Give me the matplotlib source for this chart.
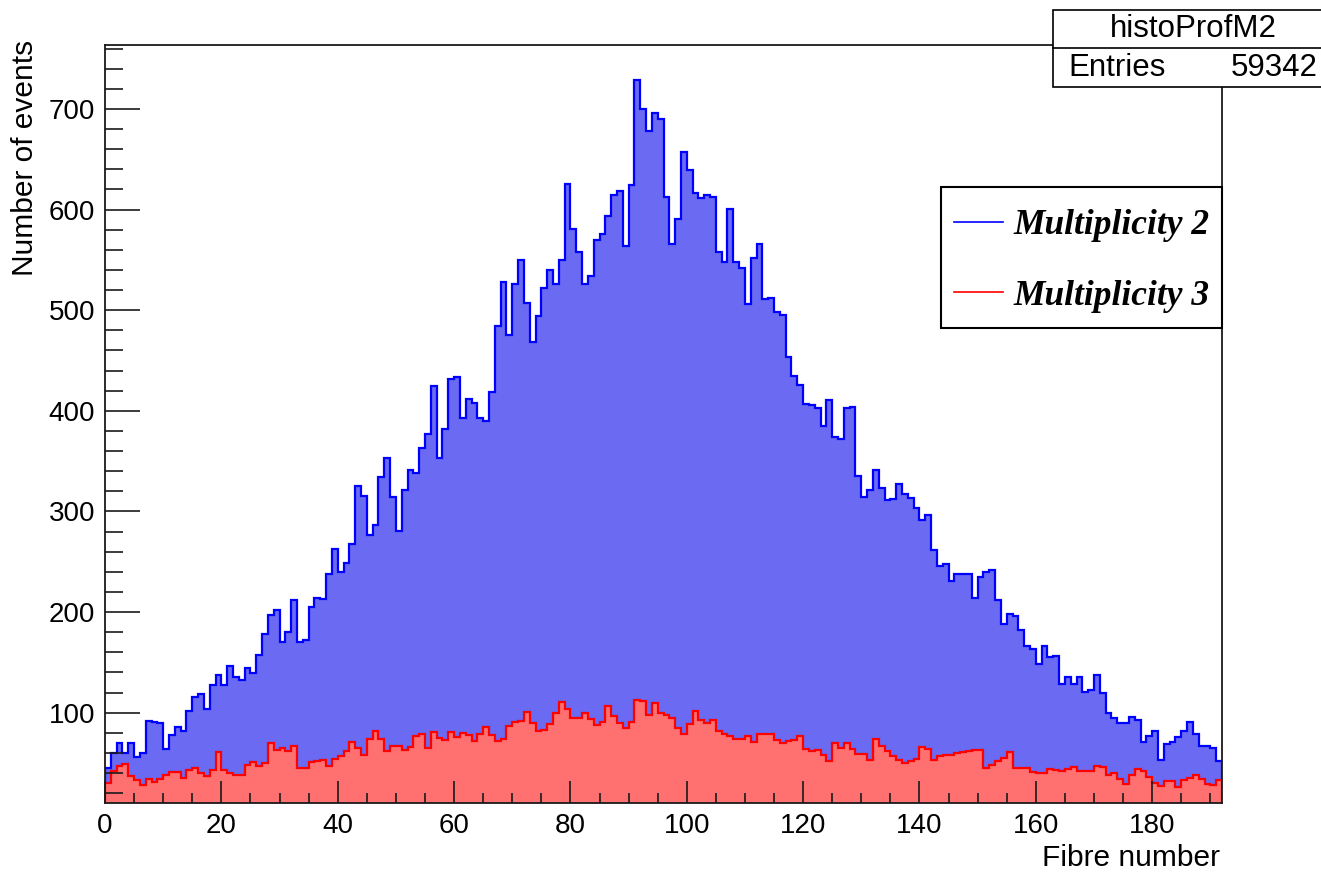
import matplotlib
matplotlib.use("Agg")
import matplotlib.pyplot as plt
import numpy as np
from matplotlib.ticker import MultipleLocator
from matplotlib.lines import Line2D
from matplotlib.patches import Rectangle

# ---------------- data ----------------
bin_edges = np.arange(0, 193, 1)

mult2 = [45, 60, 70, 60, 70, 56, 60, 92, 91, 90,
         64, 78, 86, 82, 102, 116, 119, 104, 128, 138,
         128, 146, 136, 133, 144, 139, 157, 178, 197, 202,
         170, 180, 212, 170, 172, 205, 214, 213, 238, 263,
         240, 249, 268, 325, 315, 277, 287, 334, 353, 314,
         281, 321, 341, 338, 363, 377, 425, 353, 382, 432,
         434, 393, 412, 408, 393, 390, 419, 484, 528, 475,
         526, 550, 507, 468, 494, 522, 540, 526, 550, 625,
         581, 558, 526, 534, 570, 576, 594, 615, 619, 564,
         624, 729, 700, 678, 696, 690, 613, 566, 591, 657,
         639, 617, 612, 615, 613, 558, 548, 601, 548, 542,
         506, 552, 566, 511, 512, 498, 495, 454, 435, 426,
         407, 406, 403, 385, 411, 374, 372, 403, 404, 335,
         314, 321, 341, 323, 311, 312, 327, 317, 313, 303,
         292, 297, 262, 246, 248, 231, 238, 238, 238, 214,
         235, 240, 242, 212, 188, 198, 196, 182, 166, 163,
         148, 166, 155, 156, 129, 136, 129, 136, 121, 123,
         138, 120, 100, 95, 90, 90, 96, 93, 71, 77,
         82, 53, 69, 71, 76, 82, 91, 79, 67, 67,
         65, 52]

mult3 = [30, 42, 47, 49, 37, 33, 28, 34, 31, 34,
         38, 41, 41, 35, 43, 45, 40, 37, 43, 61,
         43, 40, 38, 38, 48, 51, 47, 50, 70, 63,
         65, 62, 67, 45, 45, 51, 52, 53, 47, 54,
         57, 62, 71, 65, 58, 74, 82, 74, 62, 67,
         67, 63, 66, 77, 79, 65, 81, 75, 73, 81,
         76, 80, 78, 72, 79, 86, 78, 72, 74, 87,
         91, 92, 101, 90, 82, 83, 89, 100, 111, 104,
         95, 95, 100, 94, 88, 91, 107, 97, 90, 85,
         91, 113, 112, 98, 110, 100, 98, 95, 85, 79,
         89, 102, 93, 90, 93, 82, 79, 77, 74, 74,
         77, 71, 79, 79, 79, 73, 70, 72, 73, 77,
         64, 62, 63, 58, 52, 70, 65, 70, 64, 59,
         59, 53, 74, 67, 62, 57, 53, 50, 52, 54,
         66, 64, 53, 57, 58, 58, 60, 61, 62, 63,
         63, 45, 48, 52, 55, 61, 45, 45, 45, 41,
         40, 40, 44, 43, 42, 44, 46, 42, 42, 42,
         47, 46, 38, 40, 34, 29, 38, 44, 42, 36,
         30, 27, 32, 32, 26, 33, 35, 38, 34, 29,
         28, 33]

legend_labels = ["Multiplicity 2", "Multiplicity 3"]
stat_name = "histoProfM2"
stat_entries = "59342"
x_label = "Fibre number"
y_label = "Number of events"

# ---------------- figure ----------------
W, H = 1321, 872
plt.rcParams["font.family"] = ["Liberation Sans", "DejaVu Sans"]

def fx(x):
    return x / W

def fy(y):
    return 1 - y / H

fig = plt.figure(figsize=(W / 100, H / 100), dpi=100)
ax = fig.add_axes([fx(105), fy(803), (1222 - 105) / W, (803 - 45) / H])

blue_fill = "#6a6af2"
red_fill = "#ff7070"

ax.stairs(mult2, bin_edges, fill=True, color=blue_fill, zorder=0.5)
ax.stairs(mult2, bin_edges, baseline=0, color="#0000ff", lw=1.6, zorder=0.6)
ax.stairs(mult3, bin_edges, fill=True, color=red_fill, zorder=0.7)
ax.stairs(mult3, bin_edges, baseline=0, color="#ff0000", lw=1.6, zorder=0.8)

ax.set_xlim(0, 192)
ax.set_ylim(10.3, 763.6)

ax.xaxis.set_major_locator(MultipleLocator(20))
ax.xaxis.set_minor_locator(MultipleLocator(5))
ax.yaxis.set_major_locator(MultipleLocator(100))
ax.yaxis.set_minor_locator(MultipleLocator(20))

ax.tick_params(axis="both", which="both", direction="in", top=False, right=False,
               color="#1a1a1a", width=1.2)
ax.tick_params(axis="y", which="major", length=25, labelsize=20, pad=7)
ax.tick_params(axis="y", which="minor", length=13)
ax.tick_params(axis="x", which="major", length=16, labelsize=20, pad=7)
ax.tick_params(axis="x", which="minor", length=7.5)

for sp in ax.spines.values():
    sp.set_linewidth(1.3)
    sp.set_color("#1a1a1a")

# axis titles (ROOT style: aligned to the axis ends)
fig.text(fx(25), fy(40), y_label, rotation=90, ha="center", va="top", fontsize=21.5)
fig.text(fx(1220), fy(858), x_label, ha="right", va="center", fontsize=21.5)

# ---------------- stat box ----------------
fig.add_artist(Rectangle((fx(1053), fy(87)), (1330 - 1053) / W, (87 - 10) / H,
                         transform=fig.transFigure, facecolor="white",
                         edgecolor="black", lw=1.2, zorder=10))
fig.add_artist(Line2D([fx(1053), fx(1330)], [fy(48), fy(48)],
                      transform=fig.transFigure, color="black", lw=1.2, zorder=11))
fig.text(fx(1193), fy(29), stat_name, ha="center", va="center", fontsize=22.5, zorder=12)
fig.text(fx(1068), fy(68), "Entries", ha="left", va="center", fontsize=22.5, zorder=12)
fig.text(fx(1318), fy(68), stat_entries, ha="right", va="center", fontsize=22.5, zorder=12)

# ---------------- legend ----------------
fig.add_artist(Rectangle((fx(941), fy(328)), (1222 - 941) / W, (328 - 187) / H,
                         transform=fig.transFigure, facecolor="white",
                         edgecolor="black", lw=1.5, zorder=10))
handles = [Line2D([0], [0], color="#0000ff", lw=1.2),
           Line2D([0], [0], color="#ff0000", lw=1.2)]
leg = fig.legend(handles, legend_labels, loc="center left",
                 bbox_to_anchor=(fx(922), fy(261)), bbox_transform=fig.transFigure,
                 frameon=False, handlelength=1.4, handletextpad=0.28,
                 labelspacing=1.05,
                 prop={"family": "Liberation Serif", "weight": "bold",
                       "style": "italic", "size": 25.5})
leg.set_zorder(12)

fig.savefig("out.png", dpi=100)
